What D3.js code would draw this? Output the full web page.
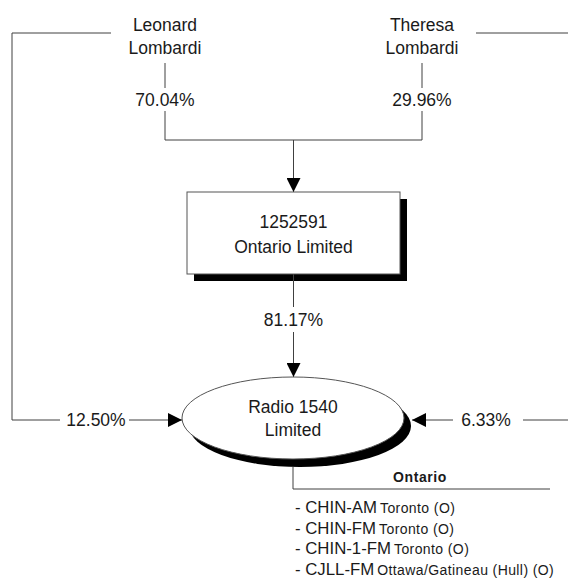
<!DOCTYPE html>
<html>
<head>
<meta charset="utf-8">
<script src="https://cdn.jsdelivr.net/npm/d3@7/dist/d3.min.js"></script>
<style>
  html, body { margin: 0; padding: 0; background: #fff; }
  svg { display: block; font-family: "Liberation Sans", Arial, sans-serif; }
</style>
</head>
<body>
<svg id="chart" width="568" height="581"></svg>
<script>
// ---- data ----
const owners = [["Leonard", "Lombardi"], ["Theresa", "Lombardi"]];
const ownerShares = ["70.04%", "29.96%"];
const holdco = ["1252591", "Ontario Limited"];
const holdcoShare = "81.17%";
const licensee = ["Radio 1540", "Limited"];
const directShares = ["12.50%", "6.33%"];
const region = "Ontario";
const stations = ["CHIN-AM", "CHIN-FM", "CHIN-1-FM", "CJLL-FM"];
const stationCities = ["Toronto (O)", "Toronto (O)", "Toronto (O)", "Ottawa/Gatineau (Hull) (O)"];

const svg = d3.select("#chart");
const lineColor = "#404040";
const fs = 17.5;

svg.append("defs").append("marker")
  .attr("id", "arrow").attr("viewBox", "0 0 14 14")
  .attr("refX", 14).attr("refY", 7)
  .attr("markerWidth", 14).attr("markerHeight", 14)
  .attr("markerUnits", "userSpaceOnUse")
  .attr("orient", "auto")
  .append("path").attr("d", "M0,0 L14,7 L0,14 Z").attr("fill", "#000");

function line(pts, arrow) {
  const p = svg.append("path")
    .attr("d", d3.line()(pts))
    .attr("fill", "none").attr("stroke", lineColor).attr("stroke-width", 1);
  if (arrow) p.attr("marker-end", "url(#arrow)");
  return p;
}
function text(x, y, s, opts = {}) {
  return svg.append("text").attr("x", x).attr("y", y)
    .attr("text-anchor", opts.anchor || "middle")
    .attr("font-size", opts.size || fs)
    .attr("font-weight", opts.weight || "normal")
    .attr("fill", "#1a1a1a")
    .text(s);
}

// owner x positions
const ownerX = d3.scalePoint().domain(d3.range(owners.length)).range([165, 422]);
const boxCx = 293.5;

// owners
owners.forEach((o, i) => {
  const x = ownerX(i);
  text(x, 31, o[0]);
  text(x, 54, o[1]);
  line([[x, 63], [x, 88]]);
  text(x, 106, ownerShares[i]);
  line([[x, 111], [x, 140]]);
});
line([[ownerX(0), 140], [ownerX(1), 140]]);
line([[boxCx, 140], [boxCx, 192]], true);

// top side connectors
line([[111, 33], [12, 33], [12, 420], [60, 420]]);
line([[476, 33], [568, 33]]);

// holdco box
const bx = 187, by = 192, bw = 213, bh = 82;
svg.append("rect").attr("x", bx + 7).attr("y", by + 7).attr("width", bw).attr("height", bh).attr("fill", "#000");
svg.append("rect").attr("x", bx).attr("y", by).attr("width", bw).attr("height", bh)
  .attr("fill", "#fff").attr("stroke", "#555").attr("stroke-width", 1);
text(boxCx, 228, holdco[0]);
text(boxCx, 253, holdco[1]);

// holdco -> licensee
line([[boxCx, 274], [boxCx, 307]]);
text(boxCx, 326, holdcoShare);
line([[boxCx, 332], [boxCx, 377]], true);

// licensee ellipse
const ecx = 293, ecy = 418, erx = 111, ery = 41;
svg.append("ellipse").attr("cx", ecx + 7).attr("cy", ecy + 8).attr("rx", erx).attr("ry", ery).attr("fill", "#000");
svg.append("ellipse").attr("cx", ecx).attr("cy", ecy).attr("rx", erx).attr("ry", ery)
  .attr("fill", "#fff").attr("stroke", "#555").attr("stroke-width", 1);
text(ecx, 413, licensee[0]);
text(ecx, 436, licensee[1]);

// direct holdings
text(96, 426, directShares[0]);
line([[129, 420], [182, 420]], true);
text(486, 426, directShares[1]);
line([[453, 420], [412, 420]], true);
line([[523, 420], [568, 420]]);

// region section
line([[293, 467], [293, 489], [550, 489]]);
text(420, 482, region, { size: 14, weight: "bold" }).attr("letter-spacing", 0.6);

const rowY = d3.scalePoint().domain(d3.range(stations.length)).range([513, 575]);
stations.forEach((s, i) => {
  const t = svg.append("text").attr("x", 295).attr("y", rowY(i))
    .attr("fill", "#1a1a1a");
  t.append("tspan").attr("font-size", 16.8).text("- " + s);
  t.append("tspan").attr("dx", 3).attr("font-size", 14).attr("letter-spacing", 0.4).text(stationCities[i]);
});
</script>
</body>
</html>
